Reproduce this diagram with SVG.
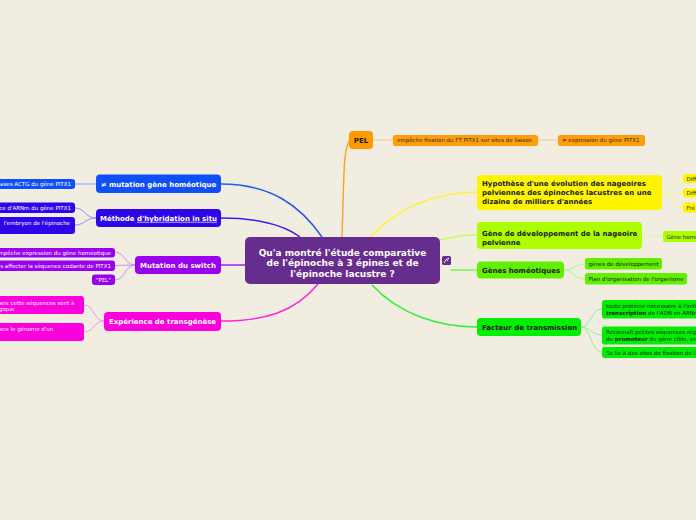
<svg xmlns="http://www.w3.org/2000/svg" width="696" height="520" viewBox="0 0 696 520">
<style>
.main{font-family:"DejaVu Sans",Verdana,sans-serif;font-weight:bold;font-size:7px}
.ctr{font-family:"DejaVu Sans",Verdana,sans-serif;font-weight:bold;font-size:9px;fill:#fff}
.sub{font-family:"DejaVu Sans",Verdana,sans-serif;font-size:5.5px}
.w{fill:#fff}
.k{fill:#1a1a1a}
.c path{fill:none}
.m{stroke-width:1.5}
.s{stroke-width:1}
</style>
<rect width="696" height="520" fill="#f1eee1"/>
<g id="connectors" class="c">
<path class="m" d="M322,237 C300,205 270,184 221,184" stroke="#1f5af2"/>
<path class="m" d="M300,237 C280,222 250,218 221,218" stroke="#3a1af0"/>
<path class="m" d="M245,265 L221,265" stroke="#9a22ee"/>
<path class="m" d="M318,284 C295,312 265,321 221,321" stroke="#ff22e0"/>
<path class="m" d="M342,237 C344,180 343,147 350,140" stroke="#f7a531"/>
<path class="m" d="M370,237 C400,205 440,192 477,192" stroke="#fff23a"/>
<path class="m" d="M440,240 C455,236 465,235 477,235" stroke="#c4ff50"/>
<path class="m" d="M451,270 L477,270" stroke="#77f548"/>
<path class="m" d="M372,285 C400,315 440,327 477,327" stroke="#33ee33"/>
<path class="s" d="M96,184 L75,184" stroke="#7fa0ff"/>
<path class="s" d="M96,218 C85,218 85,208 75,208 M96,218 C85,218 85,225 75,225" stroke="#9a88ff"/>
<path class="s" d="M135,265 C125,265 125,252 115,252 M135,265 L115,265.5 M135,265 C125,265 125,280 115,280" stroke="#c890f5"/>
<path class="s" d="M104,321 C94,321 94,305 84,305 M104,321 C94,321 94,332 84,332" stroke="#ff90f0"/>
<path class="s" d="M373,140 L393,140 M538,140 L558,140" stroke="#f5c98a"/>
<path class="s" d="M662,192 C672,192 672,178 683,178 M662,192 L683,193 M662,192 C672,192 672,207 683,207" stroke="#fff58a"/>
<path class="s" d="M642,235 C652,235 652,236 663,236" stroke="#d4ff8a"/>
<path class="s" d="M564,270 C574,270 574,264 585,264 M564,270 C574,270 574,279 585,279" stroke="#a8f890"/>
<path class="s" d="M581,327 C591,327 591,309 602,309 M581,327 C591,327 591,335 602,335 M581,327 C591,327 591,352 602,352" stroke="#90f090"/>
</g>
<g id="center">
<rect x="245" y="237" width="195" height="47" rx="5" fill="#662d8f"/>
<text class="ctr" text-anchor="middle"><tspan x="342.5" y="255.5">Qu'a montré l'étude comparative</tspan><tspan x="342.5" y="266">de l'épinoche à 3 épines et de</tspan><tspan x="342.5" y="276.5">l'épinoche lacustre ?</tspan></text>
</g>
<g id="icon">
<rect x="442" y="256" width="9" height="9" rx="1.5" fill="#662d8f"/>
<path d="M444,263 L446.5,259 L448,261 M447.5,258.5 L449,258.5 M448.2,257.8 L448.2,259.2" stroke="#fff" stroke-width="0.9" fill="none"/>
</g>
<g id="n-mutation">
<rect x="96" y="174.5" width="125" height="18.5" rx="4" fill="#0f4ff5"/>
<text class="main w" x="158.5" y="186.5" text-anchor="middle">≠ mutation gène homéotique</text>
</g>
<g id="n-mutation-c1">
<rect x="-10" y="179" width="85" height="10" rx="3" fill="#0f4ff5"/>
<text class="sub w" x="71" y="186" text-anchor="end">ases ACTG du gène PITX1</text>
</g>
<g id="n-methode">
<rect x="96" y="209" width="125" height="18" rx="4" fill="#2d05ea"/>
<text class="main w" x="158.5" y="220.8" text-anchor="middle">Méthode <tspan text-decoration="underline">d'hybridation in situ</tspan></text>
</g>
<g id="n-methode-c1">
<rect x="-10" y="202.5" width="85" height="10.5" rx="3" fill="#2d05ea"/>
<text class="sub w" x="71" y="209.7" text-anchor="end">ce d'ARNm du gène PITX1</text>
</g>
<g id="n-methode-c2">
<rect x="-10" y="217" width="85" height="17" rx="3" fill="#2d05ea"/>
<text class="sub w" x="70" y="225" text-anchor="end">l'embryon de l'épinoche</text>
</g>
<g id="n-switch">
<rect x="135" y="256" width="86" height="18" rx="4" fill="#9900ee"/>
<text class="main w" x="178" y="267.6" text-anchor="middle">Mutation du switch</text>
</g>
<g id="n-switch-c1">
<rect x="-10" y="248" width="125" height="9.5" rx="3" fill="#9900ee"/>
<text class="sub w" x="111" y="254.7" text-anchor="end">mpêche expression du gène homéotique</text>
</g>
<g id="n-switch-c2">
<rect x="-10" y="260.5" width="125" height="10.5" rx="3" fill="#9900ee"/>
<text class="sub w" x="111" y="267.7" text-anchor="end">s affecter la séquence codante de PITX1</text>
</g>
<g id="n-switch-c3">
<rect x="92" y="274.5" width="23" height="10.5" rx="3" fill="#9900ee"/>
<text class="sub w" x="103.5" y="281.7" text-anchor="middle">"PEL"</text>
</g>
<g id="n-transgenese">
<rect x="104" y="312" width="117" height="19" rx="4" fill="#fa00dc"/>
<text class="main w" x="162.5" y="324" text-anchor="middle">Expérience de transgénèse</text>
</g>
<g id="n-transgenese-c1">
<rect x="-10" y="296" width="94" height="18" rx="3" fill="#fa00dc"/>
<text class="sub w"><tspan x="-1" y="304.8">ans cette séquences sont à</tspan><tspan x="-1" y="311">gique</tspan></text>
</g>
<g id="n-transgenese-c2">
<rect x="-10" y="323" width="94" height="18" rx="3" fill="#fa00dc"/>
<text class="sub w" x="-1" y="331">ans le génome d'un</text>
</g>
<g id="n-pel">
<rect x="349" y="131" width="24" height="18" rx="4" fill="#ff9900"/>
<text class="main k" x="361" y="142.6" text-anchor="middle">PEL</text>
</g>
<g id="n-pel-c1">
<rect x="393" y="135" width="145" height="11" rx="2.5" fill="#ff9e0d"/>
<text class="sub" fill="#3a2a10" x="397" y="142.4">empêche fixation du FT PITX1 sur sites de liaison</text>
</g>
<g id="n-pel-c2">
<rect x="558" y="135" width="87" height="11" rx="2.5" fill="#ff9e0d"/>
<text class="sub" fill="#3a2a10" x="562" y="142.4">≠ expression du gène PITX1</text>
</g>
<g id="n-hypothese">
<rect x="477" y="175" width="185" height="35" rx="4" fill="#fff500"/>
<text class="main k"><tspan x="482" y="185.5">Hypothèse d'une évolution des nageoires</tspan><tspan x="482" y="194.5">pelviennes des épinoches lacustres en une</tspan><tspan x="482" y="203.5">dizaine de milliers d'années</tspan></text>
</g>
<g id="n-hypothese-c1">
<rect x="683" y="174" width="20" height="9" rx="2.5" fill="#fff500"/>
<text class="sub k" x="686.5" y="180.6">Diff</text>
</g>
<g id="n-hypothese-c2">
<rect x="683" y="188.5" width="20" height="9" rx="2.5" fill="#fff500"/>
<text class="sub k" x="686.5" y="195.1">Diff</text>
</g>
<g id="n-hypothese-c3">
<rect x="683" y="202.5" width="20" height="10" rx="2.5" fill="#fff500"/>
<text class="sub k" x="686.5" y="209.6">Fré</text>
</g>
<g id="n-nageoire">
<rect x="477" y="222" width="165" height="27" rx="4" fill="#adff00"/>
<text class="main k"><tspan x="482" y="235.5">Gène de développement de la nageoire</tspan><tspan x="482" y="244.5">pelvienne</tspan></text>
</g>
<g id="n-nageoire-c1">
<rect x="663" y="231" width="40" height="11" rx="2.5" fill="#adff00"/>
<text class="sub k" x="666.5" y="238.5">Gène homé</text>
</g>
<g id="n-homeo">
<rect x="477" y="261.5" width="87" height="17" rx="4" fill="#62f000"/>
<text class="main k" x="482" y="272.6">Gènes homéotiques</text>
</g>
<g id="n-homeo-c1">
<rect x="585" y="258" width="77" height="11.5" rx="2.5" fill="#62f000"/>
<text class="sub k" x="588.5" y="265.7">gènes de développement</text>
</g>
<g id="n-homeo-c2">
<rect x="585" y="273" width="102" height="11.5" rx="2.5" fill="#62f000"/>
<text class="sub k" x="588.5" y="280.7">Plan d'organisation de l'organisme</text>
</g>
<g id="n-facteur">
<rect x="477" y="318" width="104" height="18" rx="4" fill="#00ee00"/>
<text class="main k" x="482" y="329.6">Facteur de transmission</text>
</g>
<g id="n-facteur-c1">
<rect x="602" y="300" width="100" height="18.5" rx="2.5" fill="#00ee00"/>
<text class="sub k"><tspan x="606" y="307.5">toute protéine nécessaire à l'initi</tspan><tspan x="606" y="315"><tspan font-weight="bold">transcription</tspan> de l'ADN en ARNm</tspan></text>
</g>
<g id="n-facteur-c2">
<rect x="602" y="326.5" width="100" height="18" rx="2.5" fill="#00ee00"/>
<text class="sub k"><tspan x="606" y="334.2">Reconnaît petites séquences rég</tspan><tspan x="606" y="341.2"><tspan>du </tspan><tspan font-weight="bold">promoteur</tspan> du gène cible, en</tspan></text>
</g>
<g id="n-facteur-c3">
<rect x="602" y="347" width="100" height="11" rx="2.5" fill="#00ee00"/>
<text class="sub k" x="606" y="354.5">Se lie à des sites de fixation de l</text>
</g>
</svg>
